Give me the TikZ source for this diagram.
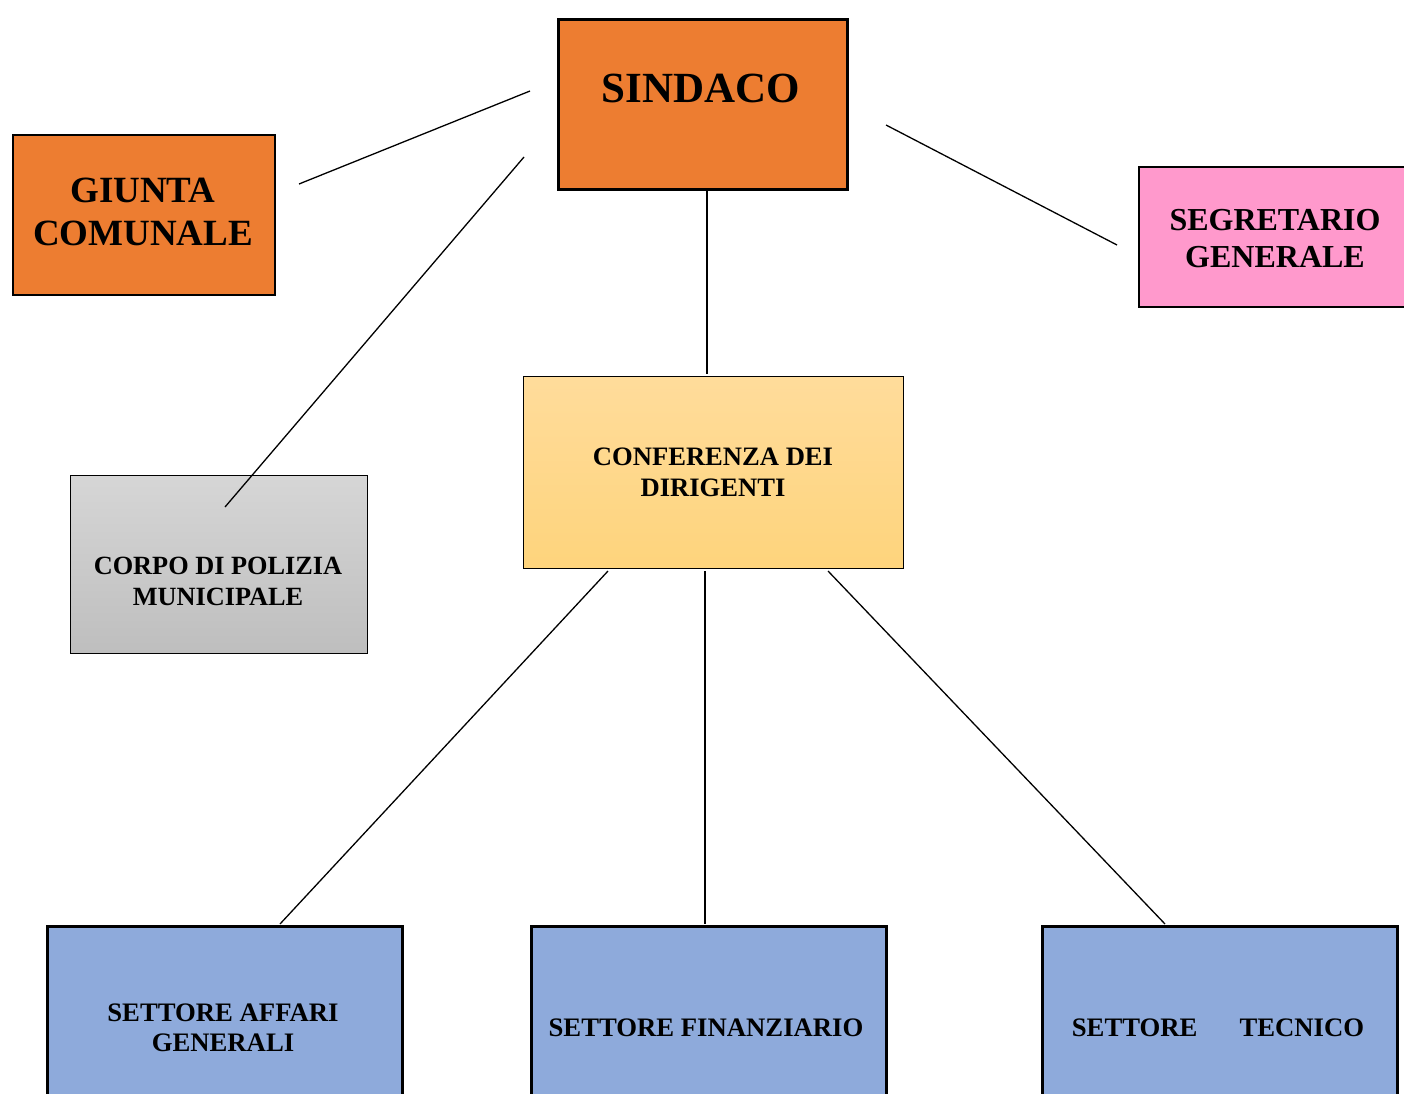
\documentclass[tikz,border=0pt]{standalone}
\usepackage{fontspec}
\setmainfont{Liberation Serif}
\definecolor{orangec}{HTML}{ED7D31}
\definecolor{pinkc}{HTML}{FF99CC}
\definecolor{bluec}{HTML}{8EAADB}
\definecolor{graytop}{HTML}{D6D6D6}
\definecolor{graybot}{HTML}{BEBEBE}
\definecolor{yeltop}{HTML}{FFDC9B}
\definecolor{yelbot}{HTML}{FED47C}
\begin{document}
\begin{tikzpicture}[x=1pt,y=-1pt,
  box/.style={draw=black, rectangle, inner sep=0pt, anchor=north west},
  lbl/.style={align=center, inner sep=0pt, text=black},
  conn/.style={draw=black, line width=1.3pt}]
\useasboundingbox (0,0) rectangle (1404,1093);
\clip (0,0) rectangle (1404,1093);

% boxes
\node[box, fill=orangec, line width=3pt, minimum width=289pt, minimum height=170pt] (sindaco) at (556.5,17.5) {};
\node[box, fill=orangec, line width=2.5pt, minimum width=262pt, minimum height=160pt] (giunta) at (11.5,133.5) {};
\node[box, fill=pinkc, line width=2pt, minimum width=270pt, minimum height=140pt] (segretario) at (1137.5,165.5) {};
\node[box, top color=graytop, bottom color=graybot, line width=1.1pt, minimum width=297pt, minimum height=178pt] (corpo) at (70,475) {};
\node[box, top color=yeltop, bottom color=yelbot, line width=1.1pt, minimum width=380pt, minimum height=192pt] (conferenza) at (523,376) {};
\node[box, fill=bluec, line width=3pt, minimum width=355pt, minimum height=200pt] (affari) at (45.5,924.5) {};
\node[box, fill=bluec, line width=3pt, minimum width=355pt, minimum height=200pt] (finanziario) at (529.5,924.5) {};
\node[box, fill=bluec, line width=3pt, minimum width=355pt, minimum height=200pt] (tecnico) at (1040.5,924.5) {};

% texts
\node[lbl, font=\fontsize{43}{50}\selectfont\bfseries] (sindacoT) at (701,88) {SINDACO};
\node[lbl, font=\fontsize{37}{43}\selectfont\bfseries] (giuntaT) at (143,212) {GIUNTA\\COMUNALE};
\node[lbl, font=\fontsize{32}{37}\selectfont\bfseries] (segretarioT) at (1275,239) {SEGRETARIO\\GENERALE};
\node[lbl, font=\fontsize{26.3}{31}\selectfont\bfseries] (corpoT) at (218,581) {CORPO DI POLIZIA\\MUNICIPALE};
\node[lbl, font=\fontsize{26.6}{31}\selectfont\bfseries] (conferenzaT) at (713,472) {CONFERENZA DEI\\DIRIGENTI};
\node[lbl, font=\fontsize{26.7}{30.5}\selectfont\bfseries] (affariT) at (223,1028) {SETTORE AFFARI\\GENERALI};
\node[lbl, font=\fontsize{26.7}{30.5}\selectfont\bfseries] (finanziarioT) at (706,1028) {SETTORE FINANZIARIO};
\node[lbl, font=\fontsize{26.7}{30.5}\selectfont\bfseries] (tecnicoT) at (1218,1028) {SETTORE\hspace{42pt}TECNICO};

% connector end points
\coordinate (gA) at (299,184);
\coordinate (gB) at (530,91);
\coordinate (pA) at (524,157);
\coordinate (pB) at (225,507);
\coordinate (sA) at (886,125);
\coordinate (sB) at (1117,245);
\coordinate (vA) at (707,188);
\coordinate (vB) at (707,374);
\coordinate (c1) at (608,571);
\coordinate (c2) at (705,571);
\coordinate (c3) at (828,571);
\coordinate (b1) at (280,924);
\coordinate (b2) at (705,924);
\coordinate (b3) at (1165,924);

\draw[conn] (gA) -- (gB);
\draw[conn] (pA) -- (pB);
\draw[conn] (sA) -- (sB);
\draw[conn] (vA) -- (vB);
\draw[conn] (c1) -- (b1);
\draw[conn] (c2) -- (b2);
\draw[conn] (c3) -- (b3);
\end{tikzpicture}
\end{document}
